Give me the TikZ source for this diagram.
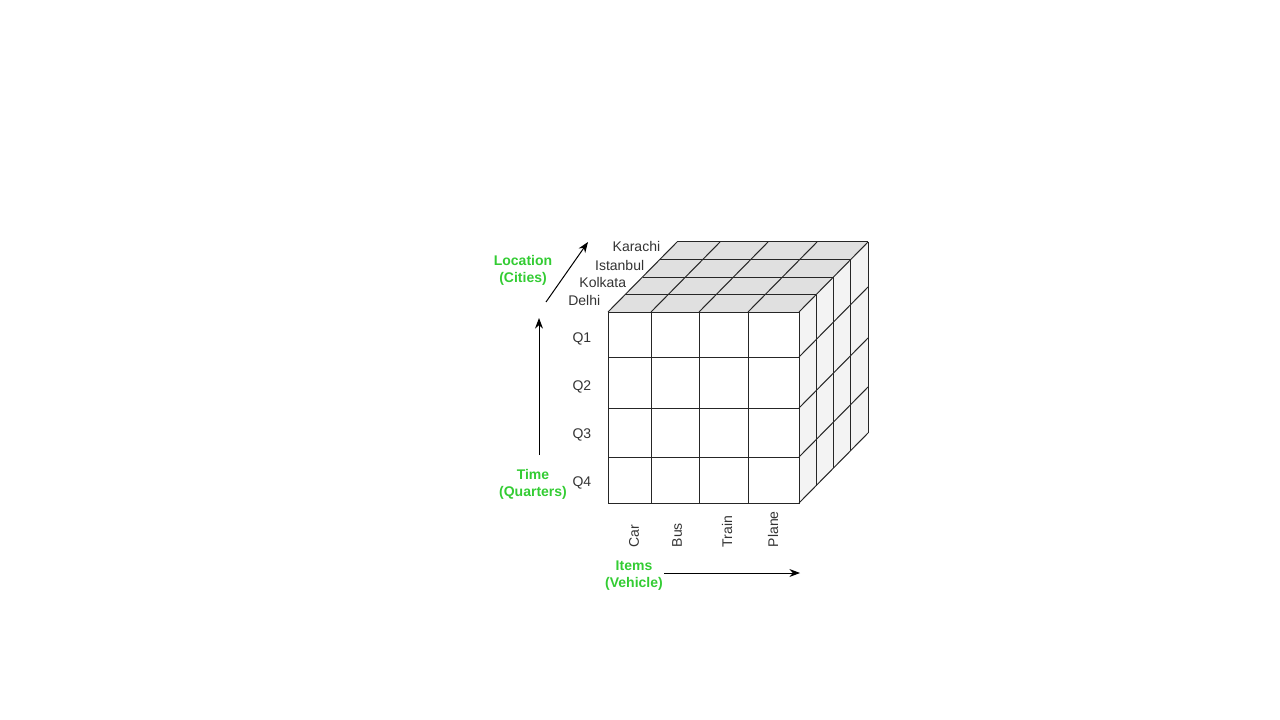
\documentclass[tikz,border=0pt]{standalone}
\usepackage{fontspec}
\setmainfont{Liberation Sans}
\usetikzlibrary{arrows.meta}

\definecolor{lblgreen}{HTML}{33CC33}
\definecolor{topgray}{HTML}{E0E0E0}
\definecolor{sidegray}{HTML}{F3F3F3}

\begin{document}
\begin{tikzpicture}[x=0.75pt, y=-0.75pt, >={Stealth[length=2.8mm, width=2.1mm]}, line width=0.75pt,
  lbl/.style={font=\fontsize{10.5}{12}\selectfont, text=black!80, inner sep=1pt},
  axis/.style={font=\bfseries\fontsize{10.5}{12.8}\selectfont, text=lblgreen, align=center, inner sep=0pt}]
  \useasboundingbox (0,0) rectangle (1280,720);
  % caras sombreadas: profundidad = (69,-70), 4 capas
  \fill[topgray] (608,312)--(799,312)--(868,242)--(677,242)--cycle;
  \fill[sidegray] (799,312)--(868,242)--(868,433)--(799,503)--cycle;
  % cara frontal
  \draw[black!85] (608,312) rectangle (799,503);
  \draw[black!85] (651,312)--(651,503) (699,312)--(699,503) (748,312)--(748,503);
  \draw[black!85] (608,357)--(799,357) (608,408)--(799,408) (608,457)--(799,457);
  % cara superior
  \draw[black!85] (625.25,294.5)--(816.25,294.5) (642.5,277)--(833.5,277)
    (659.75,259.5)--(850.75,259.5) (677,242)--(868,242);
  \draw[black!85] (608,312)--(677,242) (651,312)--(720,242) (699,312)--(768,242)
    (748,312)--(817,242) (799,312)--(868,242);
  % cara lateral
  \draw[black!85] (816.25,294.5)--(816.25,485.5) (833.5,277)--(833.5,468)
    (850.75,259.5)--(850.75,450.5) (868,242)--(868,433);
  \draw[black!85] (799,357)--(868,287) (799,408)--(868,338) (799,457)--(868,387)
    (799,503)--(868,433);
  % ciudades
  \node[lbl, anchor=east] (karachi) at (662,246) {Karachi};
  \node[lbl, anchor=east] (istanbul) at (646,265) {Istanbul};
  \node[lbl, anchor=east] (kolkata) at (628,282) {Kolkata};
  \node[lbl, anchor=east] (delhi) at (602,300) {Delhi};
  % trimestres
  \node[lbl, anchor=east] (q1) at (593,339) {Q1};
  \node[lbl, anchor=east] (q2) at (593,387) {Q2};
  \node[lbl, anchor=east] (q3) at (593,435) {Q3};
  \node[lbl, anchor=east] (q4) at (593,483) {Q4};
  % vehiculos
  \node[lbl, rotate=90, anchor=west] (car) at (634,549) {Car};
  \node[lbl, rotate=90, anchor=west] (bus) at (677,549) {Bus};
  \node[lbl, rotate=90, anchor=west] (train) at (727,549) {Train};
  \node[lbl, rotate=90, anchor=west] (plane) at (773,549) {Plane};
  % ejes
  \node[axis] (loc) at (523,270) {Location\\(Cities)};
  \node[axis] (time) at (533,484) {Time\\(Quarters)};
  \node[axis] (items) at (634,576) {Items\\(Vehicle)};
  \coordinate (t0) at (539,455);
  \coordinate (t1) at (539,318);
  \coordinate (l0) at (546,302);
  \coordinate (l1) at (588,242);
  \coordinate (i0) at (664,573);
  \coordinate (i1) at (800,573);
  \draw[->] (t0) -- (t1);
  \draw[->] (l0) -- (l1);
  \draw[->] (i0) -- (i1);
\end{tikzpicture}
\end{document}
